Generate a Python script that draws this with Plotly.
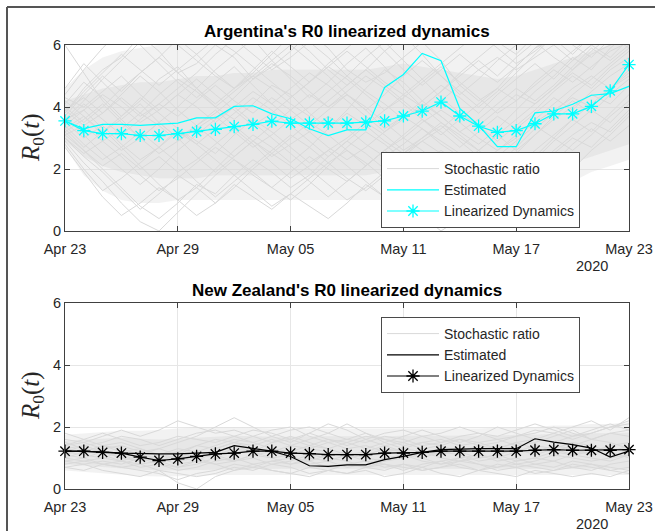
import pandas as pd
import plotly.graph_objects as go

# ---- data -------------------------------------------------------------
dates = pd.date_range("2020-04-23", "2020-05-23", freq="D")
tick_dates = ["2020-04-23", "2020-04-29", "2020-05-05", "2020-05-11", "2020-05-17", "2020-05-23"]
tick_labels = ["Apr 23", "Apr 29", "May 05", "May 11", "May 17", "May 23"]
y_ticks = [0, 2, 4, 6]

# Argentina
arg_estimated = [3.55, 3.30, 3.44, 3.44, 3.41, 3.44, 3.48, 3.65, 3.65, 4.02, 4.04,
                 3.78, 3.62, 3.30, 3.08, 3.26, 3.26, 4.63, 5.05, 5.73, 5.49, 3.95,
                 3.41, 2.72, 2.72, 3.81, 3.87, 4.09, 4.38, 4.43, 4.67]
arg_linearized = [3.55, 3.24, 3.14, 3.14, 3.08, 3.08, 3.14, 3.21, 3.28, 3.37, 3.44,
                  3.54, 3.48, 3.48, 3.48, 3.48, 3.51, 3.55, 3.71, 3.87, 4.16, 3.71,
                  3.38, 3.18, 3.24, 3.46, 3.78, 3.78, 4.02, 4.52, 5.37]
# spread of the stochastic ensemble: outer envelope and dense core
arg_outer_low = [2.7, 1.8, 1.3, 1.0, 0.9, 0.9, 1.0, 1.0, 1.0, 1.0, 1.0, 1.0, 1.0, 1.0, 1.0, 1.0,
                 1.0, 1.0, 1.1, 1.1, 1.0, 0.9, 0.8, 0.8, 0.9, 1.1, 1.3, 1.6, 1.9, 2.1, 2.3]
arg_outer_high = [4.6, 5.2, 5.6, 5.8, 5.9, 6.0, 6.0, 6.0, 6.0, 6.0, 6.0, 6.0, 6.0, 6.0, 6.0, 6.0,
                  6.0, 6.0, 6.0, 6.0, 6.0, 6.0, 6.0, 6.0, 6.0, 6.0, 6.0, 6.0, 6.0, 6.0, 6.0]
arg_core_low = [2.9, 2.4, 2.1, 1.9, 1.8, 1.7, 1.7, 1.7, 1.8, 1.8, 1.8, 1.8, 1.8, 1.8, 1.8, 1.8,
                1.8, 1.9, 1.9, 1.9, 1.8, 1.7, 1.6, 1.5, 1.6, 1.8, 2.0, 2.2, 2.4, 2.6, 2.8]
arg_core_high = [4.2, 4.4, 4.6, 4.7, 4.8, 4.8, 4.9, 5.0, 5.0, 5.1, 5.1, 5.2, 5.2, 5.2, 5.2, 5.2,
                 5.2, 5.3, 5.4, 5.3, 5.2, 5.1, 5.0, 4.9, 5.0, 5.2, 5.4, 5.6, 5.8, 6.0, 6.0]
arg_stochastic = [
    [3.8, 4.6, 5.2, 5.6, 6.3, 5.8, 5.1, 5.4, 6.0, 5.6, 4.9, 5.3, 5.8, 6.4, 5.9, 5.2, 4.8, 5.1, 5.6, 6.1, 5.5, 4.7, 4.2, 4.6, 5.3, 5.9, 6.2, 5.7, 6.3, 6.6, 6.8],
    [3.2, 2.6, 2.0, 1.4, 0.8, 0.4, 0.9, 1.5, 1.2, 1.8, 2.3, 1.9, 1.4, 1.8, 2.4, 2.9, 2.5, 2.0, 1.6, 2.1, 2.6, 2.2, 1.5, 0.9, 1.4, 2.0, 2.6, 3.1, 3.5, 3.2, 3.8],
    [4.1, 4.8, 4.3, 3.7, 4.2, 4.9, 5.3, 4.6, 4.0, 3.6, 4.1, 4.7, 4.4, 3.8, 3.3, 3.9, 4.6, 5.2, 4.8, 4.2, 3.7, 3.2, 2.8, 3.3, 3.9, 4.5, 5.0, 5.6, 5.2, 5.9, 6.4],
    [3.5, 3.0, 3.4, 2.8, 2.3, 2.7, 3.3, 2.9, 2.5, 3.1, 3.6, 3.2, 2.7, 2.2, 2.6, 3.0, 3.5, 3.1, 2.6, 3.0, 3.4, 2.9, 2.4, 2.0, 2.5, 3.1, 3.6, 4.0, 4.4, 4.1, 4.7],
    [6.0, 5.1, 4.2, 3.6, 3.0, 3.5, 4.0, 4.6, 5.2, 5.7, 6.2, 5.5, 4.9, 4.3, 4.8, 5.4, 5.9, 5.3, 4.6, 4.0, 4.5, 5.1, 5.6, 6.1, 5.7, 6.3, 6.8, 6.4, 6.9, 7.0, 6.7],
    [2.9, 2.2, 1.6, 0.9, 0.3, 0.0, 0.6, 1.2, 1.8, 2.3, 1.9, 1.4, 1.0, 1.5, 2.1, 2.7, 3.2, 2.8, 2.3, 1.8, 1.3, 0.8, 0.3, 0.7, 1.3, 1.9, 2.5, 3.0, 2.7, 3.3, 3.9],
    [3.9, 4.3, 3.8, 4.4, 5.0, 4.5, 3.9, 3.4, 3.8, 4.3, 4.9, 5.4, 5.0, 4.5, 4.0, 4.4, 3.9, 3.3, 3.7, 4.2, 4.7, 4.3, 3.8, 4.4, 4.9, 5.4, 4.9, 5.5, 6.0, 5.6, 6.2],
    [3.3, 3.7, 3.1, 2.6, 3.0, 3.5, 3.0, 2.4, 1.9, 2.4, 2.9, 2.5, 3.0, 3.5, 3.1, 2.6, 2.1, 2.6, 3.1, 3.6, 3.2, 2.7, 3.2, 3.7, 3.3, 3.8, 4.3, 3.9, 4.5, 5.0, 5.4],
    [4.4, 5.2, 5.9, 6.5, 6.0, 5.4, 4.8, 4.3, 4.8, 5.3, 4.7, 4.1, 3.6, 4.0, 4.5, 5.0, 5.6, 6.1, 5.5, 4.9, 4.3, 3.8, 3.4, 3.9, 4.4, 4.1, 4.6, 5.2, 5.8, 6.3, 5.9],
    [3.0, 2.5, 2.9, 2.4, 1.8, 1.3, 1.7, 2.2, 2.7, 2.3, 1.8, 1.4, 1.9, 2.4, 2.0, 1.6, 2.1, 2.6, 2.2, 1.7, 1.2, 0.7, 0.2, 0.5, 1.0, 1.6, 2.2, 2.8, 3.3, 2.9, 3.4],
    [3.6, 3.9, 4.4, 4.0, 3.5, 3.9, 4.4, 4.9, 4.4, 3.9, 3.4, 3.8, 4.3, 4.8, 5.3, 4.9, 4.4, 3.9, 4.3, 4.8, 5.3, 4.8, 4.3, 3.8, 4.2, 4.7, 5.2, 4.8, 5.3, 5.8, 6.1],
    [3.4, 2.8, 2.3, 2.7, 3.2, 2.7, 2.2, 1.6, 1.1, 1.6, 2.1, 2.6, 3.1, 2.7, 2.2, 1.7, 1.3, 1.8, 2.4, 2.9, 2.5, 2.0, 1.6, 1.2, 1.7, 2.3, 2.9, 3.4, 3.9, 3.5, 4.1],
    [4.0, 3.5, 4.0, 4.6, 5.1, 5.6, 6.2, 5.7, 5.1, 4.6, 5.0, 5.5, 6.0, 5.5, 5.0, 4.4, 3.9, 4.4, 5.0, 5.5, 5.0, 4.5, 4.0, 4.5, 5.1, 5.7, 6.3, 6.0, 5.6, 6.2, 6.5],
    [3.1, 3.4, 2.9, 3.3, 3.8, 3.4, 2.9, 3.3, 3.7, 3.2, 2.7, 3.1, 3.6, 3.2, 3.7, 3.3, 2.8, 2.4, 2.8, 3.3, 2.9, 2.5, 2.1, 2.6, 3.0, 3.5, 3.9, 4.3, 4.0, 4.6, 5.1],
    [3.7, 3.1, 2.5, 2.0, 1.5, 2.0, 2.6, 3.1, 3.6, 4.0, 3.5, 3.0, 2.5, 2.0, 1.5, 1.0, 1.4, 1.9, 2.5, 3.0, 3.5, 3.1, 2.6, 2.1, 2.7, 3.3, 3.8, 4.4, 4.9, 5.4, 5.9],
    [4.6, 5.4, 4.8, 4.2, 3.7, 4.1, 4.6, 5.1, 5.7, 6.2, 5.7, 5.2, 5.6, 6.1, 5.6, 5.0, 4.5, 4.1, 3.6, 4.0, 4.5, 5.0, 5.5, 5.0, 5.6, 6.1, 5.6, 5.2, 5.7, 6.0, 6.3],
    [2.8, 2.0, 1.3, 1.7, 2.2, 2.7, 3.2, 2.8, 2.3, 1.8, 1.3, 0.8, 1.2, 1.7, 2.2, 2.6, 2.2, 1.7, 1.1, 0.5, 0.0, 0.4, 1.0, 1.6, 2.1, 2.6, 3.1, 3.6, 3.2, 3.8, 4.4],
    [3.5, 4.1, 3.6, 3.1, 3.6, 4.1, 3.7, 4.2, 4.7, 4.2, 3.8, 4.3, 3.9, 3.4, 3.9, 4.4, 4.0, 3.5, 3.0, 3.5, 3.9, 3.5, 3.0, 2.6, 3.1, 3.6, 4.1, 4.6, 5.0, 4.6, 5.2],
    [3.3, 2.7, 3.2, 3.7, 4.3, 3.8, 3.3, 2.8, 3.3, 3.8, 4.3, 3.9, 3.4, 2.9, 2.4, 2.9, 3.4, 3.9, 4.4, 4.0, 3.5, 3.0, 2.6, 3.1, 3.6, 4.1, 4.6, 5.1, 4.7, 5.3, 5.8],
    [4.2, 3.7, 3.2, 3.6, 4.1, 3.5, 3.0, 3.4, 2.9, 2.4, 2.9, 3.4, 3.9, 4.4, 4.0, 4.5, 5.0, 4.6, 4.1, 3.6, 3.1, 3.6, 4.1, 4.6, 4.2, 4.8, 5.3, 5.8, 6.3, 6.0, 6.6],
    [3.0, 2.4, 1.9, 1.3, 0.7, 1.2, 1.8, 1.4, 0.9, 1.4, 2.0, 2.5, 2.1, 1.6, 1.1, 1.6, 2.1, 2.6, 3.0, 2.6, 2.1, 1.6, 1.1, 0.6, 1.1, 1.7, 2.3, 2.0, 2.6, 3.1, 3.7],
    [3.8, 4.5, 5.1, 5.7, 5.2, 4.7, 5.2, 5.7, 6.2, 5.8, 5.3, 4.8, 4.3, 4.8, 5.4, 5.9, 6.4, 5.8, 5.2, 4.7, 5.2, 5.7, 5.2, 4.8, 5.3, 5.9, 6.4, 6.9, 6.5, 6.9, 7.2],
    [3.6, 4.2, 4.9, 5.5, 6.1, 6.6, 6.0, 5.5, 5.0, 4.6, 5.1, 5.7, 6.3, 5.8, 5.2, 4.7, 5.2, 5.8, 6.3, 5.7, 5.0, 4.4, 4.9, 5.5, 6.0, 6.5, 6.1, 6.6, 7.0, 6.8, 6.9],
    [3.4, 3.9, 3.3, 2.7, 2.1, 1.5, 1.0, 1.4, 2.0, 2.6, 3.1, 2.7, 2.2, 2.7, 3.3, 3.8, 3.4, 2.9, 2.5, 2.9, 3.3, 3.8, 3.4, 2.9, 3.4, 3.9, 4.5, 5.0, 4.6, 5.2, 5.6],
    [4.3, 4.0, 4.5, 5.0, 4.4, 3.9, 4.4, 4.0, 3.5, 4.0, 4.5, 4.1, 4.6, 5.1, 4.7, 4.2, 3.7, 3.2, 3.6, 4.1, 3.7, 3.2, 3.6, 4.1, 4.6, 4.2, 4.7, 5.3, 5.9, 5.5, 6.0],
    [2.7, 1.9, 1.1, 0.5, 0.9, 1.4, 1.0, 0.5, 0.9, 1.5, 1.1, 0.7, 1.2, 0.8, 0.4, 0.9, 1.5, 1.1, 0.6, 1.0, 1.6, 2.2, 1.8, 1.3, 1.8, 2.4, 3.0, 2.6, 3.1, 3.7, 4.2],
    [3.9, 3.4, 3.8, 4.3, 3.8, 4.4, 4.9, 4.5, 4.0, 4.5, 5.0, 4.6, 4.1, 3.7, 4.2, 4.7, 5.2, 4.7, 4.2, 3.7, 4.2, 4.7, 5.2, 5.6, 5.2, 5.6, 6.0, 5.5, 6.0, 6.4, 6.2],
    [3.2, 3.6, 4.1, 3.5, 3.0, 2.5, 2.9, 3.4, 3.9, 3.4, 2.9, 2.4, 2.8, 3.2, 2.7, 2.3, 2.7, 3.2, 3.7, 3.3, 2.8, 2.4, 2.0, 2.4, 2.9, 3.4, 3.0, 3.6, 4.1, 4.6, 5.0],
    [3.7, 4.4, 5.0, 4.5, 5.1, 5.6, 5.1, 4.6, 4.1, 4.6, 5.2, 5.8, 5.3, 4.8, 5.3, 5.8, 5.3, 4.8, 4.4, 4.9, 5.4, 5.9, 6.4, 5.9, 5.4, 5.8, 6.3, 6.7, 6.2, 6.6, 7.0],
    [3.1, 2.6, 2.1, 2.5, 2.0, 2.4, 1.9, 2.3, 2.8, 3.3, 2.8, 2.2, 1.7, 2.1, 2.6, 2.1, 1.6, 1.1, 1.5, 2.0, 2.5, 2.1, 2.6, 3.1, 2.6, 3.1, 3.7, 4.2, 3.8, 4.4, 4.9],
]

# New Zealand
nz_estimated = [1.22, 1.22, 1.20, 1.16, 1.14, 1.13, 1.13, 1.16, 1.18, 1.40, 1.32,
                1.22, 1.05, 0.75, 0.73, 0.78, 0.78, 0.95, 1.05, 1.18, 1.27, 1.29,
                1.30, 1.30, 1.30, 1.62, 1.51, 1.43, 1.32, 1.03, 1.22]
nz_linearized = [1.22, 1.22, 1.18, 1.16, 1.03, 0.92, 0.97, 1.05, 1.13, 1.16, 1.22,
                 1.22, 1.16, 1.14, 1.11, 1.11, 1.11, 1.16, 1.16, 1.18, 1.22, 1.22,
                 1.22, 1.22, 1.22, 1.25, 1.27, 1.25, 1.25, 1.25, 1.27]
nz_outer_low = [0.60, 0.55, 0.50, 0.45, 0.42, 0.40, 0.40, 0.42, 0.45, 0.45, 0.45, 0.45, 0.45, 0.45, 0.45, 0.45,
                0.45, 0.45, 0.45, 0.45, 0.45, 0.45, 0.45, 0.45, 0.45, 0.45, 0.45, 0.45, 0.45, 0.45, 0.45]
nz_outer_high = [1.75, 1.80, 1.85, 1.88, 1.88, 1.90, 1.95, 2.00, 2.00, 2.00, 1.98, 1.95, 1.95, 1.95, 1.95, 1.95,
                 1.95, 1.95, 1.95, 1.95, 1.95, 1.95, 1.95, 1.98, 2.00, 2.00, 2.05, 2.05, 2.10, 2.10, 2.15]
nz_core_low = [0.80, 0.75, 0.70, 0.65, 0.62, 0.60, 0.60, 0.60, 0.62, 0.64, 0.65, 0.65, 0.65, 0.65, 0.65, 0.65,
               0.65, 0.65, 0.65, 0.65, 0.65, 0.65, 0.65, 0.65, 0.65, 0.65, 0.65, 0.65, 0.65, 0.65, 0.65]
nz_core_high = [1.55, 1.60, 1.62, 1.65, 1.62, 1.60, 1.62, 1.65, 1.70, 1.72, 1.70, 1.68, 1.68, 1.70, 1.70, 1.68,
                1.68, 1.70, 1.72, 1.72, 1.72, 1.72, 1.72, 1.72, 1.75, 1.75, 1.78, 1.80, 1.80, 1.80, 1.82]
nz_stochastic = [
    [1.2, 1.4, 1.5, 1.7, 1.6, 1.4, 1.6, 1.8, 1.9, 1.7, 1.5, 1.7, 1.9, 2.0, 1.8, 1.6, 1.5, 1.7, 1.6, 1.4, 1.5, 1.7, 1.8, 1.6, 1.7, 1.9, 1.8, 1.6, 1.8, 2.0, 2.1],
    [1.0, 0.9, 0.8, 0.7, 0.6, 0.5, 0.3, 0.5, 0.6, 0.8, 0.7, 0.6, 0.5, 0.7, 0.6, 0.5, 0.7, 0.8, 0.7, 0.6, 0.7, 0.8, 0.6, 0.7, 0.8, 0.7, 0.6, 0.7, 0.8, 0.7, 0.6],
    [1.3, 1.2, 1.4, 1.3, 1.1, 1.3, 1.5, 1.7, 2.0, 2.3, 2.0, 1.7, 1.5, 1.8, 2.1, 1.9, 1.6, 1.4, 1.5, 1.3, 1.4, 1.6, 1.5, 1.3, 1.5, 1.6, 1.5, 1.7, 1.8, 2.0, 2.2],
    [0.8, 0.9, 1.0, 0.9, 0.8, 0.6, 0.2, 0.0, 0.4, 0.6, 0.7, 0.9, 0.8, 1.0, 0.9, 0.7, 0.8, 1.0, 1.1, 0.9, 0.8, 1.0, 1.1, 1.0, 0.8, 0.9, 1.1, 1.0, 0.9, 1.0, 1.1],
    [1.6, 1.5, 1.3, 1.4, 1.2, 1.1, 1.3, 1.2, 1.4, 1.6, 1.5, 1.3, 1.2, 1.4, 1.3, 1.5, 1.7, 1.6, 1.4, 1.5, 1.6, 1.4, 1.5, 1.6, 1.4, 1.5, 1.7, 1.9, 1.6, 1.8, 1.7],
    [0.9, 1.0, 0.8, 0.7, 0.8, 0.9, 0.7, 0.8, 1.0, 0.9, 1.1, 1.0, 0.8, 0.9, 0.7, 0.8, 0.9, 0.7, 0.8, 0.6, 0.7, 0.9, 0.8, 0.6, 0.7, 0.5, 0.6, 0.8, 0.7, 0.6, 0.5],
    [1.1, 1.3, 1.2, 1.0, 1.2, 1.3, 1.1, 1.4, 1.6, 1.5, 1.3, 1.2, 1.4, 1.6, 1.8, 2.1, 1.8, 1.5, 1.3, 1.2, 1.1, 1.3, 1.2, 1.4, 1.3, 1.1, 1.3, 1.5, 1.4, 1.2, 1.4],
    [1.8, 1.6, 1.4, 1.2, 1.0, 0.9, 1.1, 1.0, 0.8, 0.9, 1.1, 1.2, 1.0, 0.9, 1.1, 1.2, 1.0, 0.9, 1.1, 1.0, 0.8, 0.9, 1.0, 1.1, 0.9, 1.0, 1.2, 1.1, 1.3, 1.2, 1.0],
    [1.4, 1.6, 1.8, 1.6, 1.4, 1.5, 1.7, 1.6, 1.5, 1.7, 1.9, 1.8, 1.6, 1.4, 1.6, 1.5, 1.3, 1.5, 1.7, 1.9, 1.7, 1.5, 1.7, 2.0, 1.8, 1.6, 1.8, 2.0, 2.2, 1.9, 2.3],
    [0.7, 0.6, 0.8, 0.9, 0.7, 0.8, 0.6, 0.7, 0.9, 1.0, 0.8, 0.6, 0.5, 0.4, 0.6, 0.5, 0.6, 0.4, 0.5, 0.7, 0.5, 0.4, 0.6, 0.5, 0.4, 0.6, 0.5, 0.4, 0.5, 0.4, 0.6],
    [1.2, 1.1, 1.0, 1.2, 1.3, 1.1, 1.0, 1.2, 1.1, 1.3, 1.2, 1.0, 1.1, 1.3, 1.2, 1.0, 1.1, 1.3, 1.2, 1.1, 1.3, 1.2, 1.0, 1.1, 1.3, 1.2, 1.4, 1.3, 1.1, 1.3, 1.2],
    [1.5, 1.3, 1.1, 0.9, 1.1, 1.0, 0.8, 0.9, 1.2, 1.4, 1.2, 1.5, 1.7, 1.5, 1.3, 1.1, 1.2, 1.4, 1.2, 1.0, 1.2, 1.1, 0.9, 1.0, 1.2, 1.4, 1.3, 1.1, 1.2, 1.4, 1.5],
    [1.4, 1.5, 1.7, 1.9, 1.7, 1.9, 2.2, 2.0, 1.8, 1.9, 1.7, 1.5, 1.6, 1.8, 1.6, 1.4, 1.6, 1.8, 1.9, 1.7, 1.8, 2.0, 1.8, 1.7, 1.9, 2.1, 1.9, 1.7, 1.9, 2.1, 1.9],
    [0.9, 0.8, 0.6, 0.5, 0.4, 0.6, 0.5, 0.4, 0.5, 0.7, 0.6, 0.8, 0.7, 0.5, 0.6, 0.8, 0.7, 0.6, 0.8, 0.7, 0.9, 0.7, 0.6, 0.8, 0.7, 0.8, 0.7, 0.9, 0.8, 0.6, 0.7],
    [1.1, 1.0, 1.2, 1.1, 0.9, 1.0, 1.2, 1.4, 1.3, 1.5, 1.4, 1.6, 1.4, 1.3, 1.5, 1.3, 1.4, 1.2, 1.3, 1.5, 1.4, 1.2, 1.4, 1.3, 1.5, 1.3, 1.2, 1.4, 1.6, 1.5, 1.3],
    [1.3, 1.4, 1.2, 1.0, 0.9, 1.1, 0.9, 1.0, 1.1, 0.9, 1.0, 0.8, 0.9, 1.1, 1.0, 0.9, 0.7, 0.9, 1.0, 1.2, 1.0, 0.9, 1.1, 0.9, 1.0, 0.8, 0.9, 1.1, 1.0, 0.9, 1.1],
    [1.0, 1.2, 1.4, 1.5, 1.3, 1.1, 1.2, 1.0, 1.3, 1.5, 1.7, 1.9, 2.0, 1.7, 1.5, 1.6, 1.8, 1.6, 1.5, 1.7, 1.5, 1.6, 1.4, 1.5, 1.7, 1.8, 2.0, 1.8, 1.6, 1.8, 1.9],
    [0.7, 0.8, 0.9, 0.8, 1.0, 0.8, 0.7, 0.9, 0.8, 0.6, 0.8, 0.9, 1.0, 0.8, 0.9, 1.1, 0.9, 0.8, 0.6, 0.8, 0.9, 1.0, 0.8, 0.7, 0.9, 1.0, 0.9, 0.7, 0.6, 0.8, 0.9],
]

# ---- styling ----------------------------------------------------------
W, H = 655, 531
GRAY = "#d9d9d9"
AXIS = "#404040"
TXT = "#262626"
SANS = "Liberation Sans, Arial, sans-serif"

panels = [
    dict(est=arg_estimated, lin=arg_linearized,
         bands=[(arg_outer_low, arg_outer_high, 0.35), (arg_core_low, arg_core_high, 0.45)],
         paths=arg_stochastic, color="#00ffff",
         title="Argentina's R0 linearized dynamics", top=45, bottom=231, legend_top=152),
    dict(est=nz_estimated, lin=nz_linearized,
         bands=[(nz_outer_low, nz_outer_high, 0.35), (nz_core_low, nz_core_high, 0.45)],
         paths=nz_stochastic, color="#000000",
         title="New Zealand's R0 linearized dynamics", top=303, bottom=489, legend_top=317),
]

X0, X1 = 65, 629
fig = go.Figure()
layout_axes = {}
annotations = []

for i, p in enumerate(panels):
    k = "" if i == 0 else str(i + 1)
    xa, ya = "x" + k, "y" + k
    leg = "legend" + k

    # shaded spread of the ensemble
    for low, high, alpha in p["bands"]:
        fig.add_trace(go.Scatter(x=dates, y=low, mode="lines", line=dict(width=0),
                                 showlegend=False, hoverinfo="skip", xaxis=xa, yaxis=ya))
        fig.add_trace(go.Scatter(x=dates, y=high, mode="lines", line=dict(width=0),
                                 fill="tonexty", fillcolor="rgba(217,217,217,%g)" % alpha,
                                 showlegend=False, hoverinfo="skip", xaxis=xa, yaxis=ya))
    for j, path in enumerate(p["paths"]):
        fig.add_trace(go.Scatter(x=dates, y=path, mode="lines",
                                 line=dict(color=GRAY, width=1),
                                 name="Stochastic ratio", showlegend=(j == 0),
                                 legend=leg, xaxis=xa, yaxis=ya))
    fig.add_trace(go.Scatter(x=dates, y=p["est"], mode="lines",
                             line=dict(color=p["color"], width=1.2),
                             name="Estimated", legend=leg, xaxis=xa, yaxis=ya))
    fig.add_trace(go.Scatter(x=dates, y=p["lin"], mode="lines+markers",
                             line=dict(color=p["color"], width=1.2),
                             marker=dict(symbol="asterisk-open", size=11,
                                         line=dict(color=p["color"], width=1.3)),
                             cliponaxis=False,
                             name="Linearized Dynamics", legend=leg, xaxis=xa, yaxis=ya))

    dom_y = [1 - p["bottom"] / H, 1 - p["top"] / H]
    layout_axes["xaxis" + k] = dict(
        domain=[X0 / W, X1 / W], anchor=ya, type="date", automargin=False,
        range=[dates[0], dates[-1]], tickvals=tick_dates, ticktext=tick_labels,
        ticks="inside", ticklen=5, tickcolor=AXIS, showline=True, linecolor=AXIS,
        linewidth=1, mirror="ticks", showgrid=True, gridcolor="#e6e6e6",
        zeroline=False, ticklabelstandoff=5,
        tickfont=dict(family=SANS, size=14.5, color=TXT))
    layout_axes["yaxis" + k] = dict(
        domain=dom_y, anchor=xa, range=[0, 6], tickvals=y_ticks, automargin=False,
        ticks="inside", ticklen=5, tickcolor=AXIS, showline=True, linecolor=AXIS,
        linewidth=1, mirror="ticks", showgrid=True, gridcolor="#e6e6e6",
        zeroline=False, tickfont=dict(family=SANS, size=14.5, color=TXT))
    layout_axes[leg] = dict(
        x=381 / W, y=1 - p["legend_top"] / H, xanchor="left", yanchor="top",
        bgcolor="white", bordercolor="#4a4a4a", borderwidth=1, traceorder="normal",
        font=dict(family=SANS, size=14, color=TXT), itemwidth=52,
        tracegroupgap=0)

    annotations.append(dict(text="<b>%s</b>" % p["title"], xref="paper", yref="paper",
                            x=(X0 + X1) / 2 / W, y=1 - (p["top"] - 13) / H,
                            xanchor="center", yanchor="middle", showarrow=False,
                            font=dict(family=SANS, size=17, color="#000000")))
    annotations.append(dict(text="<i>R</i><sub>0</sub>(<i>t</i>)", xref="paper", yref="paper",
                            x=32 / W, y=(dom_y[0] + dom_y[1]) / 2, textangle=-90,
                            xanchor="center", yanchor="middle", showarrow=False,
                            font=dict(family="Liberation Serif, serif", size=25, color=TXT)))
    annotations.append(dict(text="2020", xref="paper", yref="paper",
                            x=592 / W, y=1 - (p["bottom"] + 35) / H,
                            xanchor="center", yanchor="middle", showarrow=False,
                            font=dict(family=SANS, size=14.5, color=TXT)))

# outer frame of the figure
shapes = [
    dict(type="line", xref="paper", yref="paper", x0=7 / W, x1=1.0, y0=1 - 7 / H, y1=1 - 7 / H,
         line=dict(color="#555555", width=2)),
    dict(type="line", xref="paper", yref="paper", x0=7 / W, x1=7 / W, y0=0.0, y1=1 - 7 / H,
         line=dict(color="#555555", width=2)),
]

fig.update_layout(template="none", width=W, height=H, margin=dict(l=0, r=0, t=0, b=0),
                  paper_bgcolor="white", plot_bgcolor="white",
                  annotations=annotations, shapes=shapes, **layout_axes)

fig.write_html("out.html")
